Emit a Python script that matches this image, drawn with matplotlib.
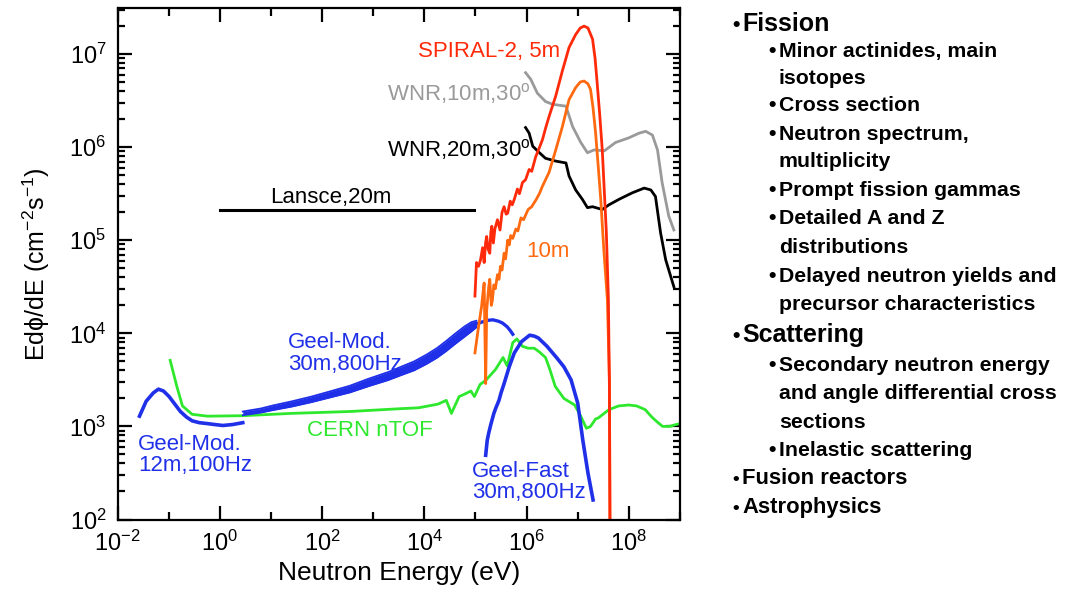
import numpy as np
import matplotlib
matplotlib.use('Agg')
import matplotlib.pyplot as plt
from matplotlib.ticker import LogLocator, NullFormatter, FixedLocator

plt.rcParams['font.family'] = ['Liberation Sans', 'DejaVu Sans']
plt.rcParams['mathtext.fontset'] = 'custom'
plt.rcParams['mathtext.rm'] = 'Liberation Sans'
plt.rcParams['mathtext.it'] = 'Liberation Sans:italic'
plt.rcParams['mathtext.bf'] = 'Liberation Sans:bold'
plt.rcParams['mathtext.default'] = 'regular'

# ---------------- data (log10 of energy [eV] and log10 of E dphi/dE) ----------------
spiral5_logE = [4.99, 5.02, 5.06, 5.10, 5.14, 5.17, 5.20, 5.22, 5.25, 5.28, 5.30, 5.32, 5.35, 5.38,
                5.43, 5.48, 5.52, 5.56, 5.60, 5.63, 5.68, 5.72, 5.76, 5.82, 5.86, 5.92, 5.98, 6.05,
                6.10, 6.18, 6.24, 6.31, 6.38, 6.44, 6.57, 6.70, 6.83, 6.96, 7.05, 7.125, 7.20, 7.29,
                7.34, 7.38, 7.43, 7.48, 7.56, 7.60, 7.62, 7.63]
spiral5_logF = [4.40, 4.76, 4.72, 4.79, 4.92, 4.76, 4.98, 5.04, 4.90, 4.86, 5.08, 5.15, 4.97, 5.12,
                5.22, 5.11, 5.30, 5.36, 5.28, 5.29, 5.42, 5.38, 5.44, 5.55, 5.50, 5.62, 5.65, 5.76,
                5.74, 5.90, 5.98, 6.08, 6.22, 6.33, 6.55, 6.82, 7.07, 7.21, 7.28, 7.30, 7.28, 7.16,
                6.95, 6.69, 6.35, 5.97, 5.08, 4.36, 3.40, 2.00]

spiral10_logE = [4.99, 5.06, 5.12, 5.15, 5.17, 5.20, 5.22, 5.26, 5.28, 5.31, 5.33, 5.36, 5.39, 5.43,
                 5.46, 5.49, 5.52, 5.56, 5.59, 5.63, 5.66, 5.69, 5.73, 5.79, 5.83, 5.89, 5.94, 6.03,
                 6.10, 6.18, 6.25, 6.31, 6.44, 6.57, 6.70, 6.83, 6.96, 7.05, 7.125, 7.20, 7.25, 7.30,
                 7.35, 7.40, 7.45, 7.51, 7.58, 7.62, 7.63]
spiral10_logF = [3.79, 4.07, 4.29, 4.45, 4.54, 3.46, 4.25, 4.50, 4.58, 4.30, 4.35, 4.52, 4.48, 4.63,
                 4.58, 4.72, 4.68, 4.86, 4.80, 5.00, 4.95, 5.05, 5.02, 5.12, 5.10, 5.24, 5.22, 5.33,
                 5.36, 5.43, 5.50, 5.58, 5.73, 5.97, 6.22, 6.51, 6.64, 6.70, 6.71, 6.68, 6.62, 6.42,
                 6.15, 5.80, 5.44, 4.90, 4.36, 3.50, 2.00]

wnr10_logE = [5.98, 6.08, 6.21, 6.37, 6.51, 6.77, 6.90, 7.06, 7.19, 7.32, 7.52, 7.74, 8.00, 8.20,
              8.33, 8.46, 8.56, 8.65, 8.78, 8.88]
wnr10_logF = [6.80, 6.73, 6.58, 6.49, 6.46, 6.44, 6.22, 6.05, 5.94, 5.97, 5.96, 6.05, 6.10, 6.15,
              6.17, 6.13, 5.97, 5.62, 5.26, 5.11]

wnr20_logE = [5.98, 6.05, 6.12, 6.25, 6.37, 6.57, 6.77, 6.83, 6.96, 7.09, 7.19, 7.29, 7.48, 7.61,
              7.81, 8.07, 8.30, 8.43, 8.52, 8.62, 8.72, 8.88]
wnr20_logF = [6.21, 6.15, 6.01, 5.94, 5.88, 5.85, 5.83, 5.69, 5.54, 5.44, 5.35, 5.36, 5.33, 5.38,
              5.44, 5.51, 5.56, 5.54, 5.47, 5.08, 4.79, 4.50]

lansce_logE = [0.0, 4.98]
lansce_logF = [5.32, 5.32]

geelmod12_logE = [-1.57, -1.44, -1.30, -1.20, -1.10, -0.99, -0.88, -0.77, -0.65, -0.54, -0.40,
                  -0.24, -0.10, 0.06, 0.25, 0.45]
geelmod12_logF = [3.11, 3.27, 3.36, 3.40, 3.38, 3.32, 3.24, 3.16, 3.10, 3.06, 3.04, 3.03, 3.02,
                  3.01, 3.02, 3.04]

geelmod30_band_logE = [0.45, 0.8, 1.04, 1.4, 1.79, 2.2, 2.54, 2.9, 3.29, 3.52, 3.8, 4.04, 4.25,
                       4.42, 4.6, 4.79, 4.92, 5.02]
geelmod30_band_lo = [3.12, 3.148, 3.175, 3.212, 3.26, 3.317, 3.364, 3.43, 3.497, 3.545, 3.602,
                     3.67, 3.738, 3.806, 3.885, 3.965, 4.02, 4.065]
geelmod30_band_hi = [3.16, 3.192, 3.225, 3.268, 3.32, 3.383, 3.436, 3.51, 3.583, 3.635, 3.698,
                     3.77, 3.842, 3.914, 3.995, 4.075, 4.12, 4.135]
geelmod30_tail_logE = [5.02, 5.12, 5.25, 5.34, 5.45, 5.53, 5.62, 5.68, 5.73]
geelmod30_tail_logF = [4.10, 4.12, 4.14, 4.145, 4.13, 4.11, 4.07, 4.03, 3.99]

geelfast_logE = [5.20, 5.23, 5.26, 5.30, 5.33, 5.36, 5.40, 5.46, 5.50, 5.56, 5.61, 5.66, 5.76,
                 5.90, 6.06, 6.15, 6.23, 6.40, 6.60, 6.73, 6.87, 7.00, 7.10, 7.20, 7.30]
geelfast_logF = [2.69, 2.85, 2.93, 3.02, 3.08, 3.14, 3.20, 3.28, 3.36, 3.46, 3.55, 3.64, 3.79,
                 3.91, 3.98, 3.97, 3.95, 3.86, 3.73, 3.64, 3.50, 3.25, 2.85, 2.50, 2.21]

cern_logE = [-0.97, -0.84, -0.73, -0.54, -0.24, 0.45, 1.41, 2.54, 3.52, 3.89, 4.27, 4.43, 4.53,
             4.68, 4.80, 4.91, 4.98, 5.09, 5.21, 5.39, 5.54, 5.62, 5.73, 5.81, 5.92, 6.03, 6.15,
             6.25, 6.37, 6.45, 6.56, 6.73, 6.94, 7.05, 7.17, 7.25, 7.35, 7.40, 7.61, 7.80, 8.00,
             8.15, 8.32, 8.45, 8.55, 8.66, 8.80, 8.92, 9.00]
cern_logF = [3.71, 3.43, 3.22, 3.13, 3.11, 3.115, 3.14, 3.16, 3.19, 3.20, 3.24, 3.28, 3.14,
             3.32, 3.35, 3.38, 3.32, 3.45, 3.50, 3.61, 3.74, 3.65, 3.90, 3.94, 3.86, 3.84, 3.84,
             3.80, 3.74, 3.62, 3.43, 3.30, 3.23, 3.12, 2.98, 3.00, 3.08, 3.09, 3.18, 3.22, 3.23,
             3.22, 3.18, 3.10, 3.05, 3.00, 3.00, 3.02, 3.03]

xtick_exponents = [-2, 0, 2, 4, 6, 8]
xminor_exponents = [-1, 1, 3, 5, 7, 9]
ytick_exponents = [2, 3, 4, 5, 6, 7]

fission_head = "Fission"
fission_items = [["Minor actinides, main", "isotopes"], ["Cross section"],
                 ["Neutron spectrum,", "multiplicity"], ["Prompt fission gammas"],
                 ["Detailed A and Z", "distributions"],
                 ["Delayed neutron yields and", "precursor characteristics"]]
scatter_head = "Scattering"
scatter_items = [["Secondary neutron energy", "and angle differential cross", "sections"],
                 ["Inelastic scattering"]]
other_heads = ["Fusion reactors", "Astrophysics"]

# ---------------- style ----------------
RED = '#ff2a0a'
ORANGE = '#ff6a10'
GRAY = '#9a9a9a'
BLUE = '#1f30e8'
GREEN = '#2ee82e'

W, H = 1065, 597
fig = plt.figure(figsize=(W / 100, H / 100), dpi=100)
x0, x1, yb, yt = 117.5, 680, 519.5, 8.3
ax = fig.add_axes([x0 / W, 1 - yb / H, (x1 - x0) / W, (yb - yt) / H])


def p(v):
    return 10 ** np.asarray(v, dtype=float)


lw = 2.0
ax.plot(p(cern_logE), p(cern_logF), color=GREEN, lw=lw)
ax.plot(p(geelmod12_logE), p(geelmod12_logF), color=BLUE, lw=2.6)
ax.fill_between(p(geelmod30_band_logE), p(geelmod30_band_lo), p(geelmod30_band_hi),
                color=BLUE, lw=0)
ax.plot(p(geelmod30_band_logE), p(geelmod30_band_lo), color=BLUE, lw=1.3)
ax.plot(p(geelmod30_band_logE), p(geelmod30_band_hi), color=BLUE, lw=1.3)
ax.plot(p(geelmod30_tail_logE), p(geelmod30_tail_logF), color=BLUE, lw=2.4)
ax.plot(p(geelfast_logE), p(geelfast_logF), color=BLUE, lw=2.6)
ax.plot(p(lansce_logE), p(lansce_logF), color='black', lw=2.2)
ax.plot(p(wnr10_logE), p(wnr10_logF), color=GRAY, lw=lw)
ax.plot(p(wnr20_logE), p(wnr20_logF), color='black', lw=lw)
ax.plot(p(spiral10_logE), p(spiral10_logF), color=ORANGE, lw=lw)
ax.plot(p(spiral5_logE), p(spiral5_logF), color=RED, lw=lw)

ax.set_xscale('log')
ax.set_yscale('log')
ax.set_xlim(1e-2, 1e9)
ax.set_ylim(1e2, 3.1e7)

ax.xaxis.set_major_locator(FixedLocator(p(xtick_exponents)))
ax.xaxis.set_minor_locator(FixedLocator(p(xminor_exponents)))
ax.set_xticklabels(['$10^{%d}$' % e for e in xtick_exponents])
ax.xaxis.set_minor_formatter(NullFormatter())
ax.yaxis.set_major_locator(FixedLocator(p(ytick_exponents)))
ax.set_yticklabels(['$10^{%d}$' % e for e in ytick_exponents])
ax.yaxis.set_minor_locator(LogLocator(base=10, subs=np.arange(2, 10)))
ax.yaxis.set_minor_formatter(NullFormatter())

ax.tick_params(which='both', direction='in', top=True, right=True, width=1.6, labelsize=17)
ax.tick_params(which='major', length=10, pad=8)
ax.tick_params(axis='x', which='minor', length=6)
ax.tick_params(axis='y', which='minor', length=5)
for s in ax.spines.values():
    s.set_linewidth(1.6)

ax.set_xlabel('Neutron Energy (eV)', fontsize=19, labelpad=4)
ax.set_ylabel(r'Ed$\phi$/dE (cm$^{-2}$s$^{-1}$)', fontsize=18, labelpad=12)


def ftext(px, py, s, color='black', size=16, **kw):
    fig.text(px / W, 1 - py / H, s, color=color, fontsize=size, ha='left', va='baseline', **kw)


# chart annotations (px = left edge, py = baseline)
ftext(418, 57, 'SPIRAL-2, 5m', RED)
ftext(387, 100, r'WNR,10m,30$^{\mathrm{o}}$', GRAY)
ftext(387, 156, r'WNR,20m,30$^{\mathrm{o}}$', 'black')
ftext(270, 203, 'Lansce,20m', 'black')
ftext(526, 257, '10m', ORANGE)
ftext(288, 348, 'Geel-Mod.', BLUE)
ftext(288, 370, '30m,800Hz', BLUE)
ftext(307, 436, 'CERN nTOF', GREEN)
ftext(138, 450, 'Geel-Mod.', BLUE)
ftext(138, 471, '12m,100Hz', BLUE)
ftext(472, 477, 'Geel-Fast', BLUE)
ftext(472, 498, '30m,800Hz', BLUE)

# bullet list on the right
TOP, SUB = 18, 15.3
y_top_lines = iter([22, 333, 476, 505])
y_sub_lines = iter([49, 76, 103, 132, 159, 188, 216, 245, 274, 302, 363, 391, 420, 448])


def head(text, size):
    y = next(y_top_lines)
    off = 0.36 * size * 1.389
    ftext(732, y + off, '\u2022', 'black', size * 0.85, fontweight='bold')
    ftext(742, y + off, text, 'black', size, fontweight='bold')


def sub(lines):
    for i, line in enumerate(lines):
        y = next(y_sub_lines)
        off = 0.36 * SUB * 1.389
        if i == 0:
            ftext(768, y + off, '\u2022', 'black', SUB, fontweight='bold')
        ftext(779, y + off, line, 'black', SUB, fontweight='bold')


head(fission_head, TOP)
for it in fission_items:
    sub(it)
head(scatter_head, TOP)
for it in scatter_items:
    sub(it)
for h in other_heads:
    head(h, SUB + 0.5)

fig.savefig('out.png', dpi=100)
